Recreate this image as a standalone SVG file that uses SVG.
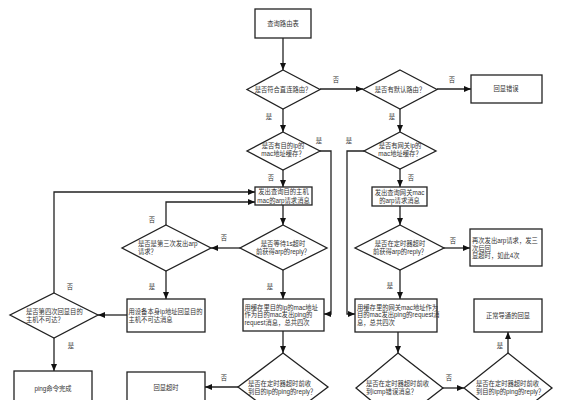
<svg xmlns="http://www.w3.org/2000/svg" width="562" height="400" viewBox="0 0 562 400">
<defs>
<marker id="arr" markerUnits="userSpaceOnUse" markerWidth="8" markerHeight="7" refX="7" refY="3" orient="auto"><path d="M0,0 L7,3 L0,6 z" fill="#111"/></marker>
<style>
.n{fill:#fff;stroke:#222;stroke-width:1.3}
.c{fill:none;stroke:#222;stroke-width:1.3;marker-end:url(#arr)}
text{font-family:"Liberation Sans","Noto Sans CJK SC",sans-serif;font-size:6.3px;fill:#333}
.m{text-anchor:middle}
</style>
</defs>
<rect width="562" height="400" fill="#fff"/>
<g id="connectors">
<path class="c" d="M283,38 V70"/>
<path class="c" d="M320,89 H363"/>
<path class="c" d="M437,89 H471"/>
<path class="c" d="M283,109 V132"/>
<path class="c" d="M400,109 V132"/>
<path class="c" d="M320,151 H331 V314 H324"/>
<path class="c" d="M364,151 H347 V314 H355"/>
<path class="c" d="M283,170 V187"/>
<path class="c" d="M400,169 V187"/>
<path class="c" d="M283,205 V225"/>
<path class="c" d="M400,206 V225"/>
<path class="c" d="M240,248 H211"/>
<path class="c" d="M166,225 V202 H255"/>
<path class="c" d="M166,271 V299"/>
<path class="c" d="M127,315 H98"/>
<path class="c" d="M54,293 V192 H255"/>
<path class="c" d="M54,338 V371"/>
<path class="c" d="M283,270 V299"/>
<path class="c" d="M400,270 V299"/>
<path class="c" d="M444,248 H470"/>
<path class="c" d="M283,331 V353"/>
<path class="c" d="M398,332 V353"/>
<path class="c" d="M238,387 H205"/>
<path class="c" d="M443,388 H464"/>
<path class="c" d="M508,353 V332"/>
<g class="lbl">
<text class="m" x="336" y="82.3">否</text>
<text class="m" x="452" y="82.3">否</text>
<text class="m" x="269" y="119.3">是</text>
<text class="m" x="392" y="119.3">是</text>
<text class="m" x="319" y="143.3">是</text>
<text class="m" x="349" y="143.3">是</text>
<text class="m" x="271" y="180.3">否</text>
<text class="m" x="411" y="180.3">否</text>
<text class="m" x="224" y="240.3">否</text>
<text class="m" x="152" y="222.3">否</text>
<text class="m" x="152" y="289.3">是</text>
<text class="m" x="270" y="289.3">是</text>
<text class="m" x="70" y="289.3">否</text>
<text class="m" x="390" y="288.3">是</text>
<text class="m" x="453" y="243.3">否</text>
<text class="m" x="71" y="348.3">是</text>
<text class="m" x="224" y="380.3">否</text>
<text class="m" x="449" y="380.3">否</text>
<text class="m" x="500" y="348.3">是</text>
</g>
</g>
<g id="n1"><rect class="n" x="255" y="9" width="56" height="29"/><text class="m" x="283" y="26.3">查询路由表</text></g>
<g id="n2"><polygon class="n" points="283,70 320,89.5 283,109 247,89.5"/><text class="m" x="283" y="91.8">是否符合直连路由？</text></g>
<g id="n3"><polygon class="n" points="400,70 437,89.5 400,109 363,89.5"/><text class="m" x="400" y="91.8">是否有默认路由？</text></g>
<g id="n4"><rect class="n" x="471" y="75" width="71" height="28"/><text class="m" x="506" y="91.3">回显错误</text></g>
<g id="n5"><polygon class="n" points="283,132 320,151 283,170 247,151"/><text class="m" x="283" y="148.3">是否有目的ip的</text><text class="m" x="283" y="156.3">mac地址缓存？</text></g>
<g id="n6"><polygon class="n" points="400,132 436,151 400,169 364,151"/><text class="m" x="400" y="148.3">是否有网关ip的</text><text class="m" x="400" y="156.3">mac地址缓存？</text></g>
<g id="n7"><rect class="n" x="255" y="187" width="57" height="18"/><text class="m" x="283.5" y="194.3">发出查询目的主机</text><text class="m" x="283.5" y="202.8">mac的arp请求消息</text></g>
<g id="n8"><rect class="n" x="372" y="187" width="55" height="19"/><text class="m" x="399.5" y="194.5">发出查询网关mac</text><text class="m" x="399.5" y="203">的arp请求消息</text></g>
<g id="n9"><polygon class="n" points="283,225 327,248 283,270 240,248"/><text class="m" x="283" y="246.3">是否等待1s超时</text><text class="m" x="283" y="254.3">前获得arp的reply？</text></g>
<g id="n10"><polygon class="n" points="166,225 211,248 166,271 122,248"/><text x="138" y="246.3">是否是第三次发出arp</text><text x="138" y="254">请求？</text></g>
<g id="n11"><polygon class="n" points="400,225 444,248 400,270 355,248"/><text class="m" x="400" y="245.5">是否在定时器超时</text><text class="m" x="400" y="253.5">前获得arp的reply？</text></g>
<g id="n12"><rect class="n" x="470" y="229" width="72" height="37"/><text x="472" y="243">再次发出arp请求，发三</text><text x="472" y="250.5">次后回</text><text x="472" y="258">显超时，如此4次</text></g>
<g id="n13"><polygon class="n" points="54,293 98,315 54,338 10,315"/><text x="26" y="314">是否第四次回显目的</text><text x="26" y="321.6">主机不可达？</text></g>
<g id="n14"><rect class="n" x="127" y="299" width="78" height="33"/><text x="128.5" y="314">用设备本身ip地址回显目的</text><text x="128.5" y="321.6">主机不可达消息</text></g>
<g id="n15"><rect class="n" x="243" y="299" width="81" height="32"/><text x="244.5" y="310">用缓存里目的ip的mac地址</text><text x="244.5" y="317.4">作为目的mac发出ping的</text><text x="244.5" y="324.8">request消息，总共四次</text></g>
<g id="n16"><rect class="n" x="355" y="299" width="82" height="33"/><text x="357" y="309.5">用缓存里的网关mac地址作为</text><text x="357" y="317">目的mac发出ping的request消</text><text x="357" y="324.8">息，总共四次</text></g>
<g id="n17"><rect class="n" x="474" y="299" width="68" height="33"/><text class="m" x="508" y="318.3">正常导通的回显</text></g>
<g id="n18"><rect class="n" x="14" y="371" width="78" height="40"/><text class="m" x="53" y="391.3">ping命令完成</text></g>
<g id="n19"><rect class="n" x="127" y="372" width="78" height="40"/><text class="m" x="166" y="390.3">回显超时</text></g>
<g id="n20"><polygon class="n" points="283,353 328,387 283,421 238,387"/><text x="248" y="385.5">是否在定时器超时前收</text><text x="248" y="393.8">到目的ip的ping的reply？</text></g>
<g id="n21"><polygon class="n" points="398,353 443,388 398,423 356,388"/><text x="366" y="385.5">是否在定时器超时前收</text><text x="366" y="393.5">到icmp错误消息？</text></g>
<g id="n22"><polygon class="n" points="508,353 552,388 508,423 464,388"/><text x="476" y="385.5">是否在定时器超时前收</text><text x="476" y="393.5">到目的ip的ping的reply？</text></g>
</svg>
